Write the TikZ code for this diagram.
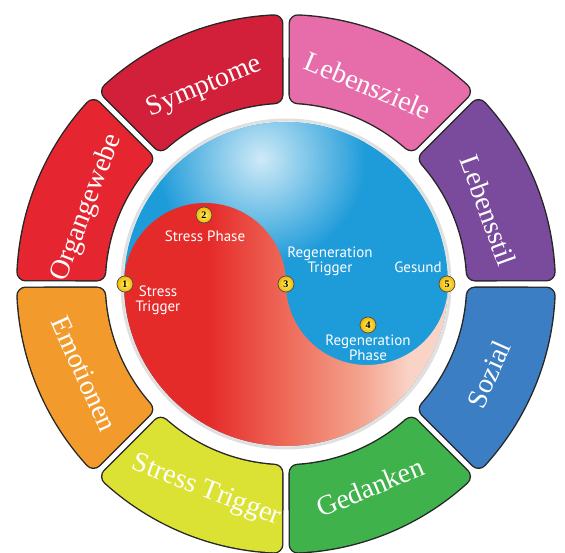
\documentclass[tikz,border=0pt]{standalone}
\usepackage{fontspec}
\setmainfont{Liberation Serif}
\newfontfamily\phasefont{PT Sans}
\usepackage{xcolor}
\usetikzlibrary{calc}
\definecolor{cPurple}{HTML}{7A4A9D}
\definecolor{cPink}{HTML}{E66DAA}
\definecolor{cCrimson}{HTML}{D21F3A}
\definecolor{cRed}{HTML}{E52630}
\definecolor{cOrange}{HTML}{F39A2C}
\definecolor{cLime}{HTML}{DCE234}
\definecolor{cGreen}{HTML}{3FB24C}
\definecolor{cBlue}{HTML}{3C7EC4}
\definecolor{cSky}{HTML}{1E9BD9}
\definecolor{cSkyLight}{HTML}{CFEAF7}
\definecolor{cYinRed}{HTML}{E52A2A}
\definecolor{cMidRed}{HTML}{EE6A58}
\definecolor{cPeach}{HTML}{F4A690}
\definecolor{cSalmon}{HTML}{F9D3C6}
\definecolor{cGold}{HTML}{F2B705}
\definecolor{cGoldLight}{HTML}{FFF06A}
\pgfdeclarehorizontalshading{yinshade}{100bp}{color(0bp)=(cYinRed); color(25bp)=(cYinRed); color(38bp)=(cYinRed); color(50bp)=(cMidRed); color(62bp)=(cPeach); color(69bp)=(cSalmon); color(100bp)=(cSalmon)}

\begin{document}
\begin{tikzpicture}[x=1pt,y=1pt,
  seg/.style={fill=#1,draw=#1,line width=16pt,line join=round,
    preaction={draw=black!85,line width=18.8pt,line join=round}},
  segtext/.style={text=white,font=\fontsize{28}{28}\selectfont},
  marker/.style={circle,draw=black!70,line width=0.7pt,shade,inner color=cGoldLight,outer color=cGold,inner sep=0pt,minimum size=16pt,font=\bfseries\fontsize{10}{10}\selectfont},
  phase/.style={text=white,align=center,font=\phasefont\fontsize{15}{15}\selectfont}]
\useasboundingbox (-286,-269) rectangle (279,284);

\path[seg=cPurple] (3.6:189.4) -- (2.62:260.6) arc[start angle=2.62,end angle=42.38,radius=260.6] -- (41.4:189.4) arc[start angle=41.4,end angle=3.6,radius=189.4] -- cycle;
\path[seg=cPink] (48.6:189.4) -- (47.62:260.6) arc[start angle=47.62,end angle=87.38,radius=260.6] -- (86.4:189.4) arc[start angle=86.4,end angle=48.6,radius=189.4] -- cycle;
\path[seg=cCrimson] (93.6:189.4) -- (92.62:260.6) arc[start angle=92.62,end angle=132.38,radius=260.6] -- (131.4:189.4) arc[start angle=131.4,end angle=93.6,radius=189.4] -- cycle;
\path[seg=cRed] (138.6:189.4) -- (137.62:260.6) arc[start angle=137.62,end angle=177.38,radius=260.6] -- (176.4:189.4) arc[start angle=176.4,end angle=138.6,radius=189.4] -- cycle;
\path[seg=cOrange] (183.6:189.4) -- (182.62:260.6) arc[start angle=182.62,end angle=222.38,radius=260.6] -- (221.4:189.4) arc[start angle=221.4,end angle=183.6,radius=189.4] -- cycle;
\path[seg=cLime] (228.6:189.4) -- (227.62:260.6) arc[start angle=227.62,end angle=267.38,radius=260.6] -- (266.4:189.4) arc[start angle=266.4,end angle=228.6,radius=189.4] -- cycle;
\path[seg=cGreen] (273.6:189.4) -- (272.62:260.6) arc[start angle=272.62,end angle=312.38,radius=260.6] -- (311.4:189.4) arc[start angle=311.4,end angle=273.6,radius=189.4] -- cycle;
\path[seg=cBlue] (318.6:189.4) -- (317.62:260.6) arc[start angle=317.62,end angle=357.38,radius=260.6] -- (356.4:189.4) arc[start angle=356.4,end angle=318.6,radius=189.4] -- cycle;

\node[segtext,rotate=-70] (lebensstil) at (20:215) {Lebensstil};
\node[segtext,rotate=-22.5] (lebensziele) at (67.5:215) {Lebensziele};
\node[segtext,rotate=22.5] (symptome) at (112.5:213) {Symptome};
\node[segtext,rotate=69] (organgewebe) at (159:213) {Organgewebe};
\node[segtext,rotate=-66] (emotionen) at (204:221) {Emotionen};
\node[segtext,rotate=-21] (stresstrigger) at (249:222) {Stress Trigger};
\node[segtext,rotate=22.5] (gedanken) at (292.5:220) {Gedanken};
\node[segtext,rotate=66] (sozial) at (336:222) {Sozial};

\draw[black!12,line width=3pt] (0,0) circle (164);
\fill[cSky] (0,0) circle (162);
\begin{scope}
\clip (0,0) circle (162);
\shade[inner color=cSkyLight,outer color=cSky] (-25,125) circle (105);
\end{scope}
\shade[shading=yinshade] (-162,0) arc[start angle=180,end angle=0,radius=81] arc[start angle=180,end angle=360,radius=81] arc[start angle=0,end angle=-180,radius=162] -- cycle;

\node[marker] (m1) at (-161,0) {1};
\node[marker] (m2) at (-82,69) {2};
\node[marker] (m3) at (0,0) {3};
\node[marker] (m4) at (82,-41) {4};
\node[marker] (m5) at (161,0) {5};

\node[phase] (stressphase) at (-81,48) {Stress Phase};
\node[phase] (stresstrig) at (-128,-16) {Stress\\Trigger};
\node[phase] (regtrig) at (44,23) {Regeneration\\Trigger};
\node[phase] (gesund) at (132,17) {Gesund};
\node[phase] (regphase) at (82,-64) {Regeneration\\Phase};
\end{tikzpicture}
\end{document}
